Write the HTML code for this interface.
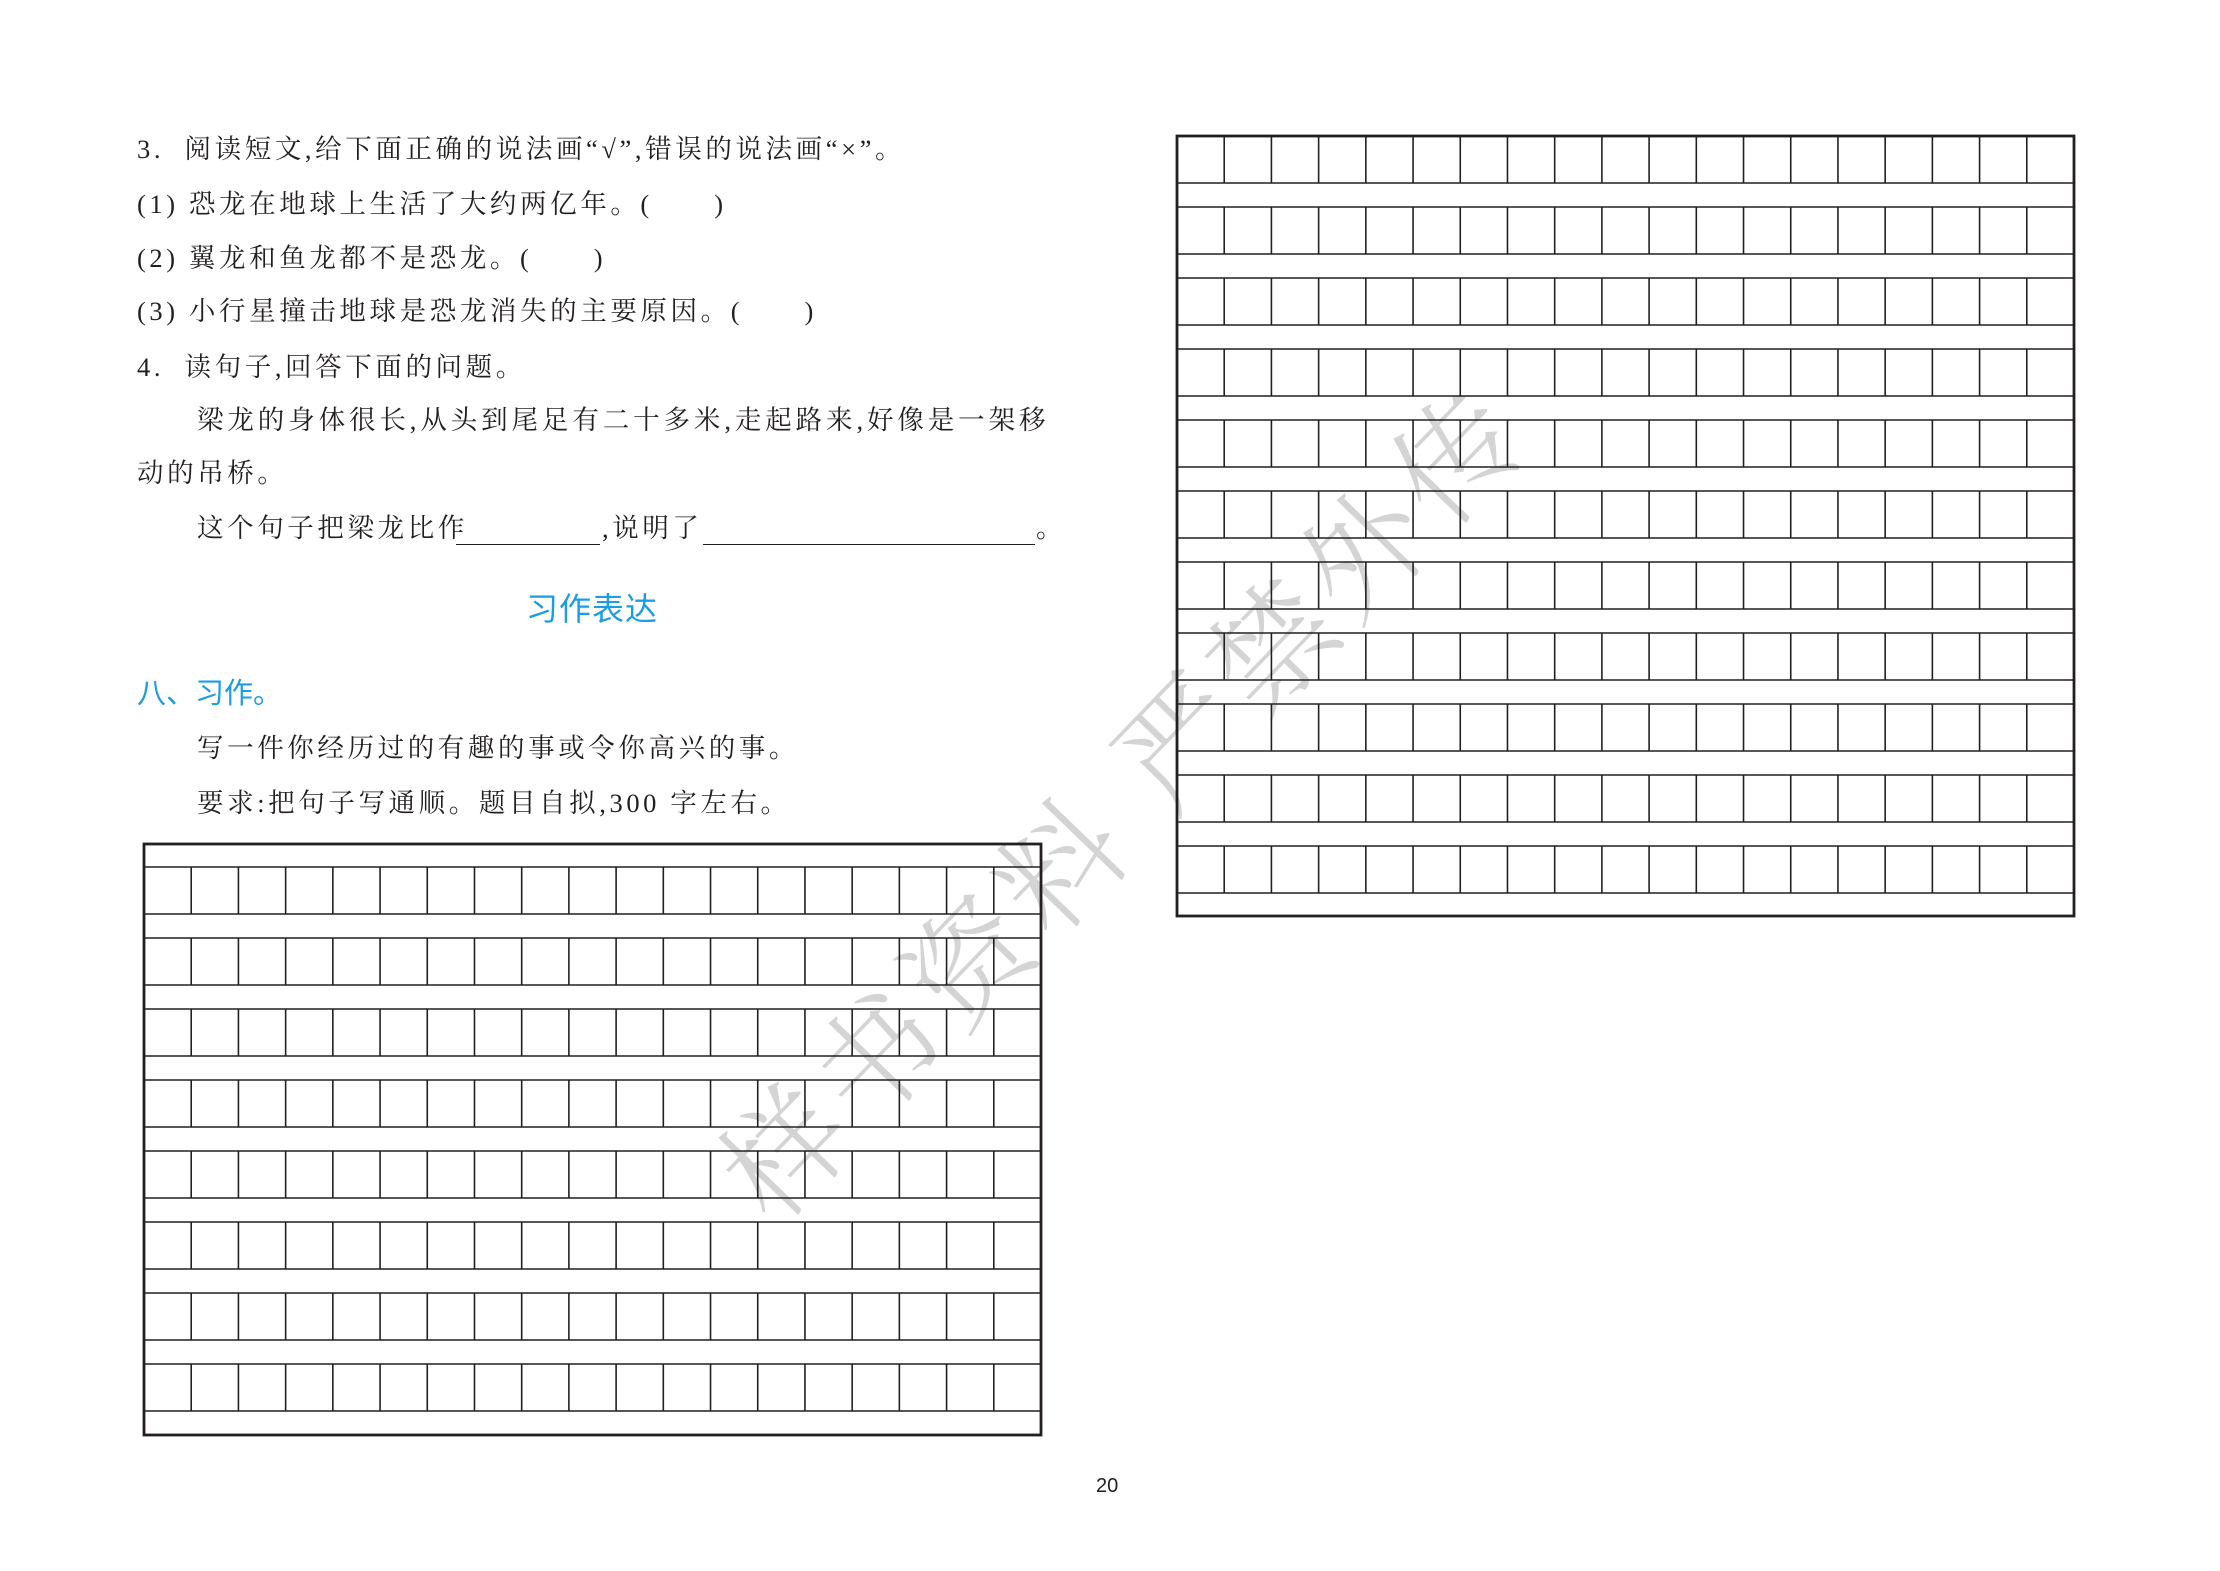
<!DOCTYPE html>
<html><head><meta charset="utf-8"><style>
body{margin:0;width:2220px;height:1571px;background:#fff;position:relative;overflow:hidden;font-family:"Liberation Serif","Noto Serif CJK SC",serif;color:#231f20}
.t{position:absolute;white-space:nowrap;font-size:26.5px;letter-spacing:3.6px;line-height:30px}
.b{position:absolute;white-space:nowrap;color:#1a9ee0;font-family:"Liberation Sans","Noto Sans CJK SC",sans-serif;line-height:36px}
.u{position:absolute;height:0;border-top:1.5px solid #231f20}
.wm{position:absolute;left:1118px;top:795px;transform:translate(-50%,-50%) rotate(-46deg);font-size:122px;color:#d4d4d4;white-space:nowrap;font-family:"Noto Serif CJK SC",serif;letter-spacing:10px;font-weight:300}
</style></head><body>
<div class="wm">样书资料&nbsp;严禁外传</div>
<div class="t" style="left:137px;top:134px">3.&nbsp; 阅读短文,给下面正确的说法画“√”,错误的说法画“×”。</div>
<div class="t" style="left:137px;top:189px">(1) 恐龙在地球上生活了大约两亿年。(&nbsp;&nbsp;&nbsp;&nbsp;&nbsp;&nbsp;)</div>
<div class="t" style="left:137px;top:243px">(2) 翼龙和鱼龙都不是恐龙。(&nbsp;&nbsp;&nbsp;&nbsp;&nbsp;&nbsp;)</div>
<div class="t" style="left:137px;top:296px">(3) 小行星撞击地球是恐龙消失的主要原因。(&nbsp;&nbsp;&nbsp;&nbsp;&nbsp;&nbsp;)</div>
<div class="t" style="left:137px;top:352px">4.&nbsp; 读句子,回答下面的问题。</div>
<div class="t" style="left:197px;top:405px;letter-spacing:3.9px">梁龙的身体很长,从头到尾足有二十多米,走起路来,好像是一架移</div>
<div class="t" style="left:137px;top:458px">动的吊桥。</div>
<div class="t" style="left:197px;top:513px">这个句子把梁龙比作</div>
<div class="u" style="left:456px;top:544px;width:144px"></div>
<div class="t" style="left:602px;top:513px">,说明了</div>
<div class="u" style="left:703px;top:544px;width:332px"></div>
<div class="t" style="left:1036px;top:513px">。</div>
<div class="b" style="left:526px;top:591px;font-size:32px;letter-spacing:1px">习作表达</div>
<div class="b" style="left:137px;top:676px;font-size:29px">八、习作。</div>
<div class="t" style="left:197px;top:733px">写一件你经历过的有趣的事或令你高兴的事。</div>
<div class="t" style="left:197px;top:788px">要求:把句子写通顺。题目自拟,300 字左右。</div>
<div style="position:absolute;left:1096px;top:1475px;font-family:'Liberation Sans',sans-serif;font-size:20px">20</div>
<svg width="2220" height="1571" style="position:absolute;left:0;top:0" xmlns="http://www.w3.org/2000/svg">
<g stroke="#231f20" fill="none" id="L"></g>
</svg>
<script>
(function(){
var g=document.getElementById('L'),s='';
function grid(x0,y0,x1,y1,cy0,rows){
  var cw=(x1-x0)/19;
  for(var r=0;r<rows;r++){
    var a=cy0+71*r,b=a+47;
    s+='<line x1="'+x0+'" y1="'+a+'" x2="'+x1+'" y2="'+a+'" stroke-width="1.6"/>';
    s+='<line x1="'+x0+'" y1="'+b+'" x2="'+x1+'" y2="'+b+'" stroke-width="1.6"/>';
    for(var c=1;c<19;c++){var x=x0+cw*c;s+='<line x1="'+x+'" y1="'+a+'" x2="'+x+'" y2="'+b+'" stroke-width="1.6"/>';}
  }
  s+='<rect x="'+x0+'" y="'+y0+'" width="'+(x1-x0)+'" height="'+(y1-y0)+'" stroke-width="2.8"/>';
}
grid(144,844,1041,1435,867,8);
grid(1177,136,2074,916,136,11);
g.innerHTML=s;
})();
</script>
</body></html>
